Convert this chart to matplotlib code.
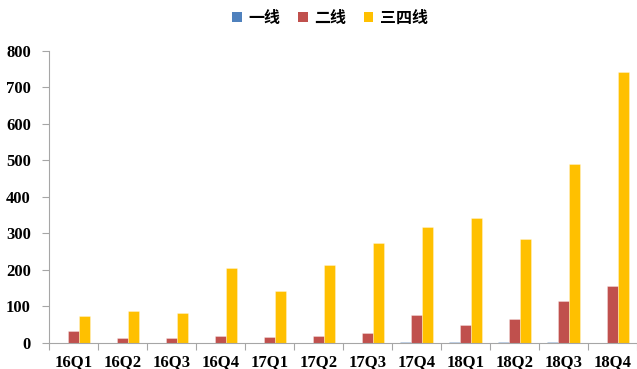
import matplotlib
matplotlib.use("Agg")
import matplotlib.pyplot as plt
import numpy as np
from matplotlib.patches import Patch

categories = ["16Q1", "16Q2", "16Q3", "16Q4", "17Q1", "17Q2", "17Q3", "17Q4",
              "18Q1", "18Q2", "18Q3", "18Q4"]
tier1 = [0, 0, 0, 0, 0, 0, 0, 2, 3, 2, 3, 0]
tier2 = [33, 13, 13, 19, 16, 17, 27, 75, 48, 64, 115, 155]
tier34 = [72, 87, 81, 204, 141, 212, 272, 318, 343, 284, 489, 743]
series_names = ["一线", "二线", "三四线"]
colors = ["#4F81BD", "#C0504D", "#FFC000"]

fig = plt.figure(figsize=(6.37, 3.69), dpi=100)
ax = fig.add_axes([49/637, (369-342.7)/369, 588/637, 292/369])

x = np.arange(len(categories))
w = 0.225
for i, (vals, c) in enumerate(zip([tier1, tier2, tier34], colors)):
    ax.bar(x + (i - 1) * w, vals, width=w, color=c, edgecolor=(1, 1, 1, 0.35), linewidth=0.6)

ax.set_xlim(-0.5, len(categories) - 0.5)
ax.set_ylim(0, 800)
ax.set_yticks(range(0, 801, 100))

serif = {"family": "Liberation Serif", "weight": "bold", "size": 12}
ax.set_xticks(x)
ax.set_xticklabels(categories, fontdict=serif)
ax.set_yticklabels([str(v) for v in range(0, 801, 100)], fontdict=serif)
ax.tick_params(axis="x", which="major", length=0, pad=8)
ax.set_xticks(np.arange(-0.5, len(categories) + 0.5, 1), minor=True)
ax.tick_params(axis="x", which="minor", length=5, color="#A6A6A6", width=0.8)
ax.tick_params(axis="y", length=5, color="#A6A6A6", width=0.8, pad=8)

for s in ["top", "right"]:
    ax.spines[s].set_visible(False)
for s in ["left", "bottom"]:
    ax.spines[s].set_color("#A6A6A6")
    ax.spines[s].set_linewidth(0.8)

handles = [Patch(facecolor=c, edgecolor="none") for c in colors]
fig.legend(handles, series_names, loc="center", bbox_to_anchor=(330/637, 1 - 18/369),
           ncol=3, frameon=False, handlelength=0.6, handleheight=0.6,
           handletextpad=0.4, columnspacing=1.1,
           prop={"family": ["Noto Sans CJK SC", "DejaVu Sans"], "weight": "bold", "size": 11.5})

fig.savefig("out.png", dpi=100)
